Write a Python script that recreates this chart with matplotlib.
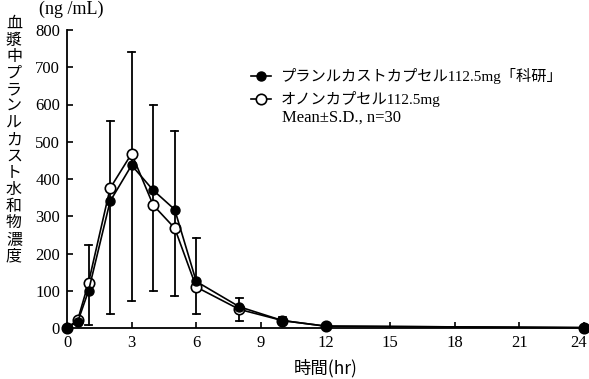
import matplotlib
matplotlib.use("Agg")
import matplotlib.pyplot as plt
import matplotlib.transforms as mtransforms
import numpy as np

times = [0, 0.5, 1, 2, 3, 4, 5, 6, 8, 10, 12, 24]
kaken = [0, 17, 100, 340, 437, 370, 318, 125, 57, 20, 5, 1]
onon = [0, 22, 122, 375, 468, 330, 268, 110, 50, 20, 5, 1]
err_t = [1, 2, 3, 4, 5, 6, 8, 10]
err_low = [7, 37, 72, 100, 87, 37, 20, 10]
err_high = [222, 555, 740, 600, 530, 242, 80, 30]

xticks = [0, 3, 6, 9, 12, 15, 18, 21, 24]
yticks = [0, 100, 200, 300, 400, 500, 600, 700, 800]

serif = ['Liberation Serif', 'DejaVu Serif', 'Noto Sans CJK JP']
jp = ['Noto Sans CJK JP', 'Liberation Serif']

fig = plt.figure(figsize=(5.89, 3.79), dpi=100)
ax = fig.add_axes([67/589, 1-328/379, (584-67)/589, (328-30)/379])

# error bars
for t, lo, hi in zip(err_t, err_low, err_high):
    ax.plot([t, t], [lo, hi], color='black', lw=1.3, zorder=1)
    ax.plot([t-0.16, t+0.16], [lo, lo], color='black', lw=1.3, zorder=1)
    ax.plot([t-0.16, t+0.16], [hi, hi], color='black', lw=1.3, zorder=1)

l1, = ax.plot(times, kaken, '-o', color='black', lw=1.2, ms=6.5,
              mfc='black', mec='black', zorder=3,
              label='プランルカストカプセル112.5mg「科研」')
l2, = ax.plot(times, onon, '-o', color='black', lw=1.2, ms=7.5,
              mfc='white', mec='black', mew=1.2, zorder=2,
              label='オノンカプセル112.5mg')

ax.set_xlim(0, 24)
ax.set_ylim(0, 800)
ax.set_xticks(xticks)
ax.set_yticks(yticks)
ax.spines['top'].set_visible(False)
ax.spines['right'].set_visible(False)
ax.spines['left'].set_linewidth(1.3)
ax.spines['bottom'].set_linewidth(1.3)
ax.tick_params(direction='in', length=4, width=1.2, labelsize=12, pad=5)
for lab in ax.get_xticklabels() + ax.get_yticklabels():
    lab.set_family(serif)
for ln in ax.lines:
    ln.set_clip_on(False)
last = ax.get_xticklabels()[-1]
last.set_transform(last.get_transform() +
                   mtransforms.ScaledTranslation(-5/100, 0, fig.dpi_scale_trans))

ax.set_xlabel('時間(hr)', fontsize=12.5, family=jp, labelpad=6)

fig.text(14/589, 1-15/379, '\n'.join('血漿中プランルカスト水和物濃度'),
         ha='center', va='top', fontsize=11.5, family=jp, linespacing=0.97)
fig.text(71/589, 1-9/379, '(ng /mL)', ha='center', va='center',
         fontsize=13, family=serif)

fig.legend(handles=[l1, l2], loc='upper left',
           bbox_to_anchor=(251/589, 1-68/379),
           frameon=False, handlelength=1.3, handletextpad=0.65,
           borderaxespad=0, borderpad=0, labelspacing=0.45,
           prop={'family': serif, 'size': 11})
fig.text(282/589, 1-118/379, 'Mean±S.D., n=30', ha='left', va='center',
         fontsize=12, family=serif)

fig.savefig('out.png', dpi=100)
